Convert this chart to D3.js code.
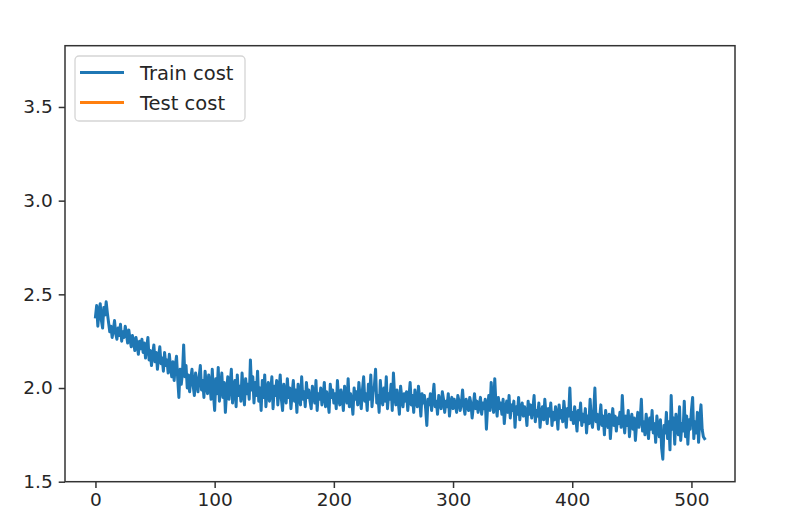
<!DOCTYPE html>
<html>
<head>
<meta charset="utf-8">
<script src="https://cdn.jsdelivr.net/npm/d3@7"></script>
<style>
  html, body { margin: 0; padding: 0; background: #fff; }
  svg { display: block; }
  text { font-family: "DejaVu Sans", sans-serif; }
</style>
</head>
<body>
<svg id="chart" width="810" height="528"></svg>
<script>
// ---- data ----
const trainCost = [
  2.38,2.44,2.33,2.41,2.45,2.36,2.32,2.43,2.39,2.46,2.40,2.35,2.30,2.33,2.27,2.31,2.36,2.29,2.26,2.32,
  2.28,2.34,2.25,2.30,2.27,2.33,2.29,2.24,2.31,2.26,2.22,2.28,2.25,2.20,2.27,2.23,2.18,2.25,2.21,2.26,
  2.19,2.24,2.16,2.22,2.27,2.15,2.20,2.12,2.18,2.23,2.14,2.19,2.10,2.17,2.22,2.13,2.16,2.09,2.19,2.12,
  2.15,2.08,2.18,2.11,2.06,2.14,2.04,2.12,2.17,2.05,1.95,2.10,2.02,2.08,2.23,2.06,2.12,2.00,2.07,1.98,
  2.05,2.10,2.01,1.96,2.08,2.03,1.98,2.06,2.12,1.99,2.04,1.95,2.09,2.01,1.97,2.07,2.02,1.94,2.10,1.97,
  1.88,2.05,1.97,2.11,1.93,2.00,2.08,1.95,2.03,1.87,1.98,2.06,1.94,2.02,2.10,1.92,1.99,2.04,1.90,2.07,
  1.96,2.01,1.93,2.08,1.98,1.91,2.05,1.97,2.02,1.94,2.15,1.99,2.06,1.92,2.03,1.96,2.09,1.93,2.00,1.88,
  2.04,1.95,2.07,1.90,1.99,2.03,1.93,1.98,2.06,1.89,2.01,1.96,2.04,1.91,1.99,2.07,1.94,1.88,2.02,1.97,
  1.92,2.05,1.95,2.00,1.89,1.97,2.04,1.93,1.99,1.87,2.02,1.96,1.91,2.06,1.94,1.98,1.90,2.03,1.95,1.99,
  1.93,1.89,2.01,1.96,1.92,2.04,1.88,1.97,1.94,2.00,1.91,1.95,2.03,1.90,1.98,1.93,1.87,2.02,1.95,1.99,
  1.92,1.97,1.89,2.04,1.94,1.91,1.99,1.95,1.88,2.01,1.96,1.92,2.05,1.90,1.97,1.93,1.86,2.00,1.94,1.98,
  1.91,2.03,1.95,1.89,1.99,2.06,1.93,1.97,1.88,2.02,1.94,2.07,1.90,1.98,2.01,2.10,1.92,1.96,1.87,2.04,
  1.95,1.91,2.00,1.93,2.06,1.89,1.97,1.94,2.02,1.88,2.08,1.96,1.91,1.99,1.93,1.86,2.01,1.95,1.90,1.97,
  1.93,1.98,1.88,1.95,2.03,1.91,1.96,1.87,1.99,1.93,1.90,2.01,1.94,1.85,1.97,1.92,1.96,1.89,1.80,1.94,
  1.91,1.97,1.88,1.95,2.02,1.90,1.93,1.86,1.96,1.92,1.89,1.98,1.94,1.87,1.93,1.90,1.97,1.85,1.92,1.95,
  1.89,1.94,1.91,1.87,1.96,1.93,1.88,1.92,1.99,1.90,1.86,1.94,1.91,1.88,1.95,1.92,1.84,1.90,1.97,1.89,
  1.93,1.87,1.91,1.95,1.86,1.92,1.89,1.94,1.78,1.90,1.96,1.88,2.03,1.93,1.87,2.05,1.91,1.85,1.95,1.89,
  1.92,1.86,1.94,1.81,1.89,1.93,1.87,1.96,1.84,1.91,1.88,1.93,1.79,1.90,1.86,1.95,1.83,1.89,1.92,1.85,
  1.90,1.87,1.80,1.93,1.86,1.91,1.84,1.89,1.96,1.82,1.88,1.85,1.92,1.79,1.87,1.90,1.83,1.94,1.86,1.81,
  1.89,1.85,1.92,1.80,1.87,1.83,1.90,1.86,1.78,1.91,1.84,1.88,1.82,1.93,1.86,1.79,1.89,1.85,2.00,1.83,
  1.87,1.81,1.90,1.84,1.77,1.88,1.83,1.92,1.80,1.86,1.82,1.89,1.76,1.85,1.81,1.94,1.83,1.79,1.87,2.00,
  1.82,1.86,1.78,1.84,1.91,1.80,1.85,1.75,1.88,1.82,1.79,1.86,1.73,1.83,1.89,1.80,1.85,1.77,1.84,1.81,
  1.87,1.79,1.96,1.83,1.76,1.85,1.80,1.88,1.74,1.82,1.86,1.78,1.84,1.72,1.81,1.87,1.79,1.83,1.94,1.77,
  1.82,1.75,1.86,1.80,1.73,1.84,1.78,1.88,1.76,1.81,1.71,1.85,1.79,1.74,1.83,1.68,1.62,1.80,1.76,1.87,
  1.73,1.82,1.67,1.96,1.78,1.84,1.70,1.86,1.79,1.75,1.90,1.72,1.81,1.77,1.93,1.74,1.85,1.70,1.83,1.78,
  1.88,1.95,1.73,1.82,1.76,1.87,1.71,1.84,1.91,1.78,1.74,1.73
];
const testCost = [];
const seriesNames = ["Train cost", "Test cost"];
const seriesColors = ["#1f77b4", "#ff7f0e"];
const xTicks = [0, 100, 200, 300, 400, 500];
const yTicks = [1.5, 2.0, 2.5, 3.0, 3.5];
const xDomain = [-25.55, 536.55];
const yDomain = [1.5, 3.827];

// ---- layout ----
const L = 65, R = 735, T = 45.7, B = 481.7;
const svg = d3.select("#chart");
const x = d3.scaleLinear().domain(xDomain).range([L, R]);
const y = d3.scaleLinear().domain(yDomain).range([B, T]);

const fontSize = 18.5;
const legendFontSize = 19.5;
const textColor = "#262626";

// data line
const line = d3.line().x((d, i) => x(i)).y(d => y(d));
svg.append("path")
  .datum(trainCost)
  .attr("fill", "none")
  .attr("stroke", seriesColors[0])
  .attr("stroke-width", 3)
  .attr("stroke-linejoin", "round")
  .attr("stroke-linecap", "square")
  .attr("d", line);

if (testCost.length) {
  svg.append("path").datum(testCost)
    .attr("fill", "none").attr("stroke", seriesColors[1]).attr("stroke-width", 3)
    .attr("d", line);
}

// axes
const xAxis = d3.axisBottom(x).tickValues(xTicks).tickFormat(d3.format("d"))
  .tickSize(6.3).tickPadding(5);
const gx = svg.append("g").attr("transform", `translate(0,${B})`).call(xAxis);
const yAxis = d3.axisLeft(y).tickValues(yTicks).tickFormat(d3.format(".1f"))
  .tickSize(6.3).tickPadding(6);
const gy = svg.append("g").attr("transform", `translate(${L},0)`).call(yAxis);
[gx, gy].forEach(g => {
  g.select(".domain").remove();
  g.selectAll(".tick line").attr("stroke", "#333").attr("stroke-width", 1.5);
  g.selectAll(".tick text").attr("fill", textColor)
    .style("font-size", fontSize + "px").style("font-family", "'DejaVu Sans', sans-serif");
});

// frame
svg.append("rect")
  .attr("x", L).attr("y", T).attr("width", R - L).attr("height", B - T)
  .attr("fill", "none").attr("stroke", "#333").attr("stroke-width", 1.5);

// legend
const lg = svg.append("g");
lg.append("rect")
  .attr("x", 75).attr("y", 56).attr("width", 170).attr("height", 65)
  .attr("rx", 4).attr("ry", 4)
  .attr("fill", "#fff").attr("fill-opacity", 0.8)
  .attr("stroke", "#d5d5d5").attr("stroke-width", 1.3);
seriesNames.forEach((name, i) => {
  const yy = 72.5 + i * 30;
  lg.append("line").attr("x1", 80).attr("x2", 124).attr("y1", yy).attr("y2", yy)
    .attr("stroke", seriesColors[i]).attr("stroke-width", 3);
  lg.append("text").attr("x", 140).attr("y", yy).attr("dy", "0.36em")
    .attr("fill", textColor).style("font-size", legendFontSize + "px").text(name);
});
</script>
</body>
</html>
